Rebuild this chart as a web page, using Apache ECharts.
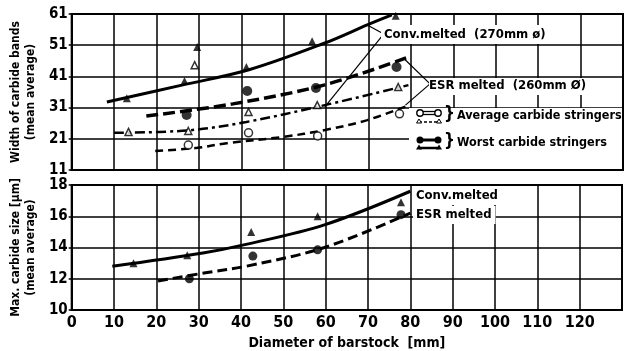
<!DOCTYPE html>
<html><head><meta charset="utf-8">
<script src="https://cdn.jsdelivr.net/npm/echarts@6/dist/echarts.min.js"></script>
<style>html,body{margin:0;padding:0;background:#fff}#c{width:625px;height:351px}</style>
</head><body><div id="c"></div>
<script>
// ---- data (diameter mm, value) ----
const xTickLabels = ['0','10','20','30','40','50','60','70','80','90','100','110','120',''];
const topTicks = [11,21,31,41,51,61];
const bottomTicks = [10,12,14,16,18];

// Top panel: width of carbide bands (fitted curves)
const convWorstCurve = [[8.3,32.8],[26,38.2],[42,43.2],[59.7,51.7],[69.7,57.5],[75.5,60.7]];
const esrWorstCurve  = [[17.6,28.3],[38,32.2],[59.7,38.3],[79.4,47.2]];
const convAvgCurve   = [[10,22.9],[27.5,23.7],[41.2,26.4],[59.7,31.8],[79.4,38.2]];
const esrAvgCurve    = [[19.7,17.1],[29.6,18.1],[36.6,19.6],[49.8,21.6],[59.7,23.8],[69.7,27],[79,31.5]];
// Top panel: measured points
const convWorstPts = [[13,34],[26.6,39.5],[29.6,50.4],[41.2,44],[56.7,52.3],[76.4,60.4]];
const esrWorstPts  = [[27.1,28.6],[41.4,36.3],[57.6,37.3],[76.6,44]];
const convAvgPts   = [[13.4,23.2],[27.5,23.5],[29,44.6],[41.7,29.6],[57.9,31.8],[77,37.6]];
const esrAvgPts    = [[27.5,19],[41.7,22.9],[58,21.9],[77.3,29]];

// Bottom panel: max carbide size
const convSizeCurve = [[9.6,12.8],[31,13.65],[41.2,14.2],[59.7,15.45],[80,17.6]];
const esrSizeCurve  = [[20.4,11.86],[32,12.4],[41.2,12.8],[59.7,14.0],[80,16.2]];
const convSizePts   = [[14.6,13],[27.3,13.5],[42.4,15],[58.1,16.0],[77.8,16.9]];
const esrSizePts    = [[27.8,12],[42.8,13.45],[58.1,13.85],[77.8,16.1]];

// bracket pointers (apex -> line)
const convBracket = [[[73.6,54.6],[69.7,57.5]],[[73.6,54.6],[59.7,31.2]]];
const esrBracket  = [[[84.5,38.6],[78.2,46.9]],[[84.5,38.6],[78.7,31.8]]];

const FONT = '"DejaVu Sans Condensed",sans-serif';
const chart = echarts.init(document.getElementById('c'), null, {renderer:'canvas'});

function xAx(idx, showLabel){
  return {gridIndex:idx, type:'value', min:0, max:130, interval:10,
    axisLine:{show:true, lineStyle:{color:'#000', width:2}},
    axisTick:{show:false},
    splitLine:{show:true, lineStyle:{color:'#000', width:1.5}},
    axisLabel:{show:showLabel, color:'#000', fontFamily:FONT, fontWeight:'bold', fontSize:16, margin:5,
      formatter:v=>xTickLabels[Math.round(v/10)] ?? ''},
    name: showLabel ? 'Diameter of barstock  [mm]' : '',
    nameLocation:'middle', nameGap:26,
    nameTextStyle:{color:'#000', fontFamily:FONT, fontWeight:'bold', fontSize:14}
  };
}
function yAx(idx, min, max, interval, ticks, name){
  return {gridIndex:idx, type:'value', min, max, interval,
    axisLine:{show:true, lineStyle:{color:'#000', width:2}},
    axisTick:{show:true, length:3, lineStyle:{color:'#000', width:1.5}},
    splitLine:{show:true, lineStyle:{color:'#000', width:1.5}},
    axisLabel:{color:'#000', fontFamily:FONT, fontWeight:'bold', fontSize:15, margin:4,
      formatter:v=>ticks.includes(Math.round(v)) ? String(Math.round(v)) : ''},
    name, nameLocation:'middle', nameRotate:90, nameGap:22,
    nameTextStyle:{color:'#000', fontFamily:FONT, fontWeight:'bold', fontSize:12, lineHeight:15}
  };
}
function curve(data, xi, type, width){
  return {type:'line', xAxisIndex:xi, yAxisIndex:xi, data, smooth:0.35, showSymbol:false, silent:true,
    lineStyle:{color:'#000', width, type}, z:3};
}
function pts(data, xi, symbol, size, filled){
  return {type:'scatter', xAxisIndex:xi, yAxisIndex:xi, data, symbol, symbolSize:size, silent:true, z:4,
    itemStyle:{color: filled ? '#000' : '#fff', borderColor:'#000', borderWidth: filled ? 0 : 1.5}};
}
function bracket(segs){
  return {type:'line', xAxisIndex:0, yAxisIndex:0, data:[], silent:true,
    markLine:{silent:true, symbol:['none','none'], label:{show:false},
      lineStyle:{color:'#000', width:1.2, type:'solid'},
      data: segs.map(s=>[{coord:s[0]},{coord:s[1]}])}};
}

const F13 = 'bold 13px '+FONT;
const F12 = 'bold 12.5px '+FONT;
const txt = (x,y,text,pad,font)=>({type:'text', left:x, top:y, z:100,
  style:{text, fill:'#000', font: font||F13, backgroundColor: pad ? '#fff' : null, padding: pad||0}});

const graphics = [
  // legend box cover
  {type:'rect', shape:{x:409, y:108, width:213, height:61}, style:{fill:'#fff'}, z:90},
  txt(381,25,'Conv.melted  (270mm ø)', [3,10,3,3]),
  txt(429,78,'ESR melted  (260mm Ø)', [1,30,3,0]),
  // legend glyphs - average
  {type:'line', shape:{x1:420,y1:111.5,x2:438,y2:111.5}, style:{stroke:'#000', lineWidth:1.3}, z:100},
  {type:'line', shape:{x1:420,y1:114.5,x2:438,y2:114.5}, style:{stroke:'#000', lineWidth:1.3}, z:100},
  {type:'circle', shape:{cx:420,cy:113,r:3.2}, style:{fill:'#fff', stroke:'#000', lineWidth:1.4}, z:101},
  {type:'circle', shape:{cx:438,cy:113,r:3.2}, style:{fill:'#fff', stroke:'#000', lineWidth:1.4}, z:101},
  {type:'line', shape:{x1:419,y1:122,x2:439,y2:122}, style:{stroke:'#000', lineWidth:1.3, lineDash:[3,2]}, z:100},
  {type:'polygon', shape:{points:[[419,119],[416.5,123],[421.5,123]]}, style:{fill:'#fff', stroke:'#000', lineWidth:1}, z:101},
  {type:'polygon', shape:{points:[[439,119],[436.5,123],[441.5,123]]}, style:{fill:'#fff', stroke:'#000', lineWidth:1}, z:101},
  txt(444,106,'}', null, 'bold 17px '+FONT),
  txt(457,109,'Average carbide stringers', null, F12),
  // legend glyphs - worst
  {type:'line', shape:{x1:420,y1:140,x2:438,y2:140}, style:{stroke:'#000', lineWidth:3}, z:100},
  {type:'circle', shape:{cx:420,cy:140,r:3.5}, style:{fill:'#000'}, z:101},
  {type:'circle', shape:{cx:438,cy:140,r:3.5}, style:{fill:'#000'}, z:101},
  {type:'line', shape:{x1:419,y1:148,x2:439,y2:148}, style:{stroke:'#000', lineWidth:2.5}, z:100},
  {type:'polygon', shape:{points:[[419,144.5],[416,149.5],[422,149.5]]}, style:{fill:'#000'}, z:101},
  {type:'polygon', shape:{points:[[439,144.5],[436,149.5],[442,149.5]]}, style:{fill:'#000'}, z:101},
  txt(444,133,'}', null, 'bold 17px '+FONT),
  txt(457,136,'Worst carbide stringers', null, F12),
  // bottom labels
  txt(413,186,'Conv.melted', [3,14,3,3]),
  txt(413,206,'ESR melted', [2,4,3,3])
];

chart.setOption({
  animation:false,
  backgroundColor:'#fff',
  grid:[
    {left:62, right:2, top:14, height:156, show:true, borderColor:'#000', borderWidth:2, backgroundColor:'transparent'},
    {left:62, right:2, top:185, height:125, show:true, borderColor:'#000', borderWidth:2, backgroundColor:'transparent'}
  ],
  xAxis:[xAx(0,false), xAx(1,true)],
  yAxis:[yAx(0,11,61,10,topTicks,'Width of carbide bands\n(mean average)'),
         yAx(1,10,18,2,bottomTicks,'Max. carbide size [μm]\n(mean average)')],
  series:[
    curve(convWorstCurve,0,'solid',3),
    curve(esrWorstCurve,0,[12,5],3.5),
    curve(convAvgCurve,0,[10,4,3,4],2.5),
    curve(esrAvgCurve,0,[8,5],2.5),
    pts(convWorstPts,0,'triangle',8,true),
    pts(esrWorstPts,0,'circle',10,true),
    pts(convAvgPts,0,'triangle',7,false),
    pts(esrAvgPts,0,'circle',8,false),
    bracket(convBracket),
    bracket(esrBracket),
    curve(convSizeCurve,1,'solid',3),
    curve(esrSizeCurve,1,[10,5],3),
    pts(convSizePts,1,'triangle',8,true),
    pts(esrSizePts,1,'circle',9,true)
  ],
  graphic: graphics
});
</script></body></html>
